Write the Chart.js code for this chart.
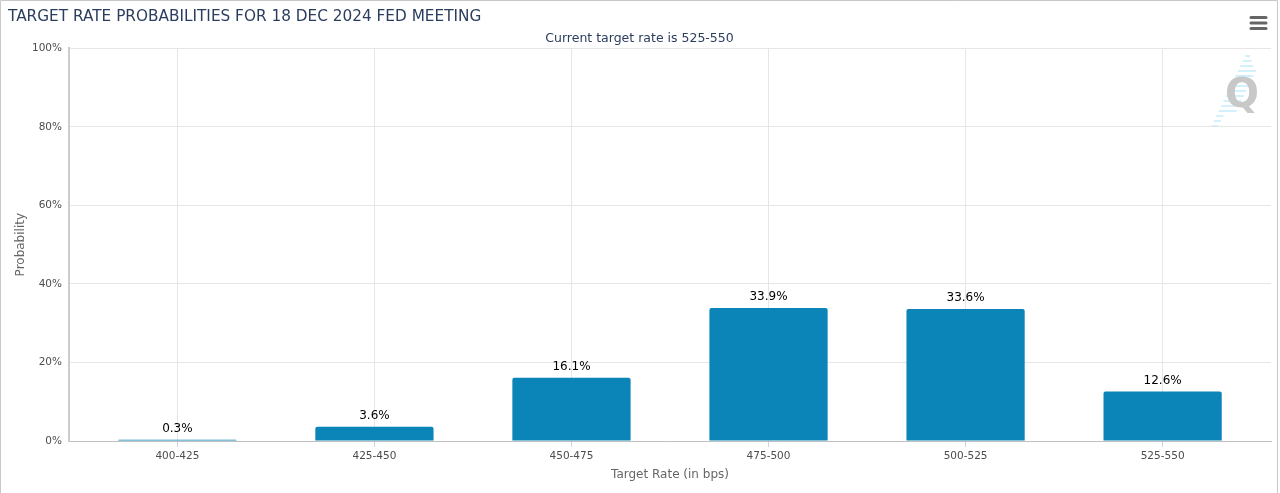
<!DOCTYPE html>
<html lang="en">

<head>
    <meta charset="UTF-8">
    <title>Target Rate Probabilities</title>
    <script src="https://cdn.jsdelivr.net/npm/chart.js"></script>
    <style>
        body {
            margin: 0;
            padding: 0;
            background: #ffffff;
        }

        #wrap {
            width: 1280px;
            height: 493px;
        }
    </style>
</head>

<body>
    <div id="wrap"><canvas id="fedChart"></canvas></div>

    <script>
        // categories and values
        const targetRates = ['400-425', '425-450', '450-475', '475-500', '500-525', '525-550'];
        const probabilities = [0.3, 3.6, 16.1, 33.9, 33.6, 12.6];
        const yTicks = [0, 20, 40, 60, 80, 100];

        const FONT = "'DejaVu Sans', sans-serif";
        const NAVY = '#2b3d5e';

        // value labels above the bars
        const barLabels = {
            id: 'barLabels',
            afterDatasetsDraw(chart) {
                const ctx = chart.ctx;
                const meta = chart.getDatasetMeta(0);
                ctx.save();
                ctx.font = '12px ' + FONT;
                ctx.fillStyle = '#000000';
                ctx.textAlign = 'center';
                ctx.textBaseline = 'bottom';
                meta.data.forEach((bar, i) => {
                    ctx.fillText(probabilities[i].toFixed(1) + '%', bar.x, bar.y - 5);
                });
                ctx.restore();
            }
        };

        // frame, menu icon and the watermark
        const decorations = {
            id: 'decorations',
            beforeDraw(chart) {
                const ctx = chart.ctx;
                ctx.save();
                ctx.strokeStyle = '#c8c8c8';
                ctx.lineWidth = 1;
                ctx.beginPath();
                ctx.moveTo(0.5, 493);
                ctx.lineTo(0.5, 0.5);
                ctx.lineTo(1277.5, 0.5);
                ctx.lineTo(1277.5, 493);
                ctx.stroke();

                // watermark dashes
                ctx.strokeStyle = '#c4ecfb';
                ctx.lineWidth = 1.5;
                for (let i = 0; i < 15; i++) {
                    const y = 56 + i * 5;
                    const x0 = 1245 - i * 2.4;
                    const len = i < 3 ? 5 + i * 4 : (i > 11 ? 7 : 18);
                    ctx.beginPath();
                    ctx.moveTo(x0, y);
                    ctx.lineTo(x0 + len, y);
                    ctx.stroke();
                }
                ctx.font = 'bold 40px ' + FONT;
                ctx.fillStyle = '#c8c8c8';
                ctx.textAlign = 'center';
                ctx.textBaseline = 'middle';
                ctx.fillText('Q', 1242, 97);

                // menu icon
                ctx.strokeStyle = '#666666';
                ctx.lineWidth = 3;
                ctx.lineCap = 'round';
                [17.5, 23, 28.5].forEach(y => {
                    ctx.beginPath();
                    ctx.moveTo(1251, y);
                    ctx.lineTo(1266, y);
                    ctx.stroke();
                });
                ctx.restore();
            }
        };

        const ctx = document.getElementById('fedChart').getContext('2d');

        new Chart(ctx, {
            type: 'bar',
            data: {
                datasets: [{
                    data: probabilities.map((v, i) => ({ x: i, y: v })),
                    backgroundColor: '#0b84b7',
                    borderRadius: { topLeft: 2, topRight: 2 },
                    borderSkipped: 'bottom',
                    barPercentage: 0.6,
                    categoryPercentage: 1
                }]
            },
            options: {
                responsive: true,
                maintainAspectRatio: false,
                animation: false,
                layout: { padding: { left: 8, right: 9, top: 0, bottom: 11 } },
                plugins: {
                    legend: { display: false },
                    tooltip: { enabled: false },
                    title: {
                        display: true,
                        text: 'TARGET RATE PROBABILITIES FOR 18 DEC 2024 FED MEETING',
                        align: 'start',
                        color: NAVY,
                        font: { family: FONT, size: 15.3, weight: 'normal' },
                        padding: { top: 8, bottom: 3 }
                    },
                    subtitle: {
                        display: true,
                        text: 'Current target rate is 525-550',
                        color: NAVY,
                        font: { family: FONT, size: 12.5 },
                        padding: { top: 2, bottom: 2 }
                    }
                },
                scales: {
                    x: {
                        type: 'linear',
                        min: -0.55,
                        max: 5.55,
                        offset: false,
                        afterBuildTicks: scale => {
                            scale.ticks = targetRates.map((c, i) => ({ value: i }));
                        },
                        ticks: {
                            callback: v => targetRates[v],
                            color: '#4d4d4d',
                            font: { family: FONT, size: 10.5 },
                            padding: 3,
                            maxRotation: 0
                        },
                        grid: { offset: false, color: '#e6e6e6', tickColor: '#ccd6eb', tickLength: 6 },
                        border: { color: '#c0c0c0' },
                        title: {
                            display: true,
                            text: 'Target Rate (in bps)',
                            color: '#666666',
                            font: { family: FONT, size: 12 },
                            padding: { top: 2, bottom: 0 }
                        }
                    },
                    y: {
                        min: 0,
                        max: 100,
                        afterBuildTicks: scale => {
                            scale.ticks = yTicks.map(v => ({ value: v }));
                        },
                        afterFit: scale => { scale.width = 61; },
                        ticks: {
                            callback: v => v + '%',
                            color: '#4d4d4d',
                            font: { family: FONT, size: 10.5 },
                            padding: 7
                        },
                        grid: { color: '#e6e6e6', drawTicks: false },
                        border: { color: '#cccccc', width: 2 },
                        title: {
                            display: true,
                            text: 'Probability',
                            color: '#666666',
                            font: { family: FONT, size: 12 },
                            padding: { top: 6, bottom: 4 }
                        }
                    }
                }
            },
            plugins: [barLabels, decorations]
        });
    </script>
</body>

</html>
